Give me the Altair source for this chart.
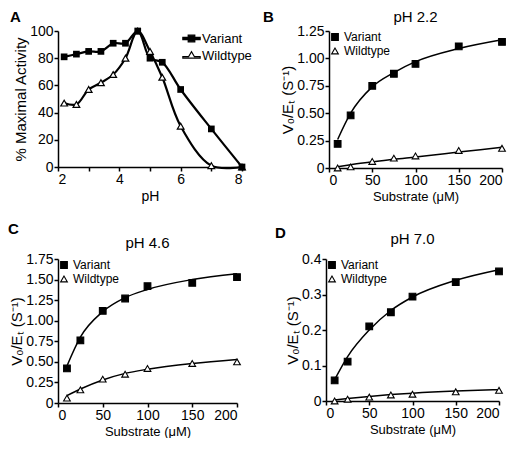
import altair as alt
import pandas as pd

NARROW = "Liberation Sans Narrow, Arial Narrow, Liberation Sans, Arial, sans-serif"
REG = "Liberation Sans, Arial, sans-serif"

series = ["Variant", "Wildtype"]

# Panel A: pH profile
ph = [2.2, 2.6, 3.0, 3.4, 3.8, 4.2, 4.6, 5.0, 5.4, 6.0, 7.0, 8.0]
activity_variant = [81, 83, 85, 85, 91, 91, 100, 80, 77, 57, 28, 0]
activity_wildtype = [47, 46, 57, 62, 68, 80, 100, 85, 66, 30, 1, 0]

# Kinetics panels
substrate = [10, 25, 50, 75, 100, 150, 200]

b_variant = [0.22, 0.48, 0.75, 0.86, 0.95, 1.11, 1.15]
b_wildtype = [0.00, 0.01, 0.06, 0.09, 0.11, 0.16, 0.18]
b_fit_variant = [0.26, 0.50, 0.74, 0.87, 0.97, 1.09, 1.17]
b_fit_wildtype = [0.012, 0.03, 0.055, 0.08, 0.10, 0.145, 0.19]

c_variant = [0.42, 0.76, 1.12, 1.27, 1.42, 1.46, 1.53]
c_wildtype = [0.06, 0.16, 0.29, 0.35, 0.42, 0.48, 0.50]
c_fit_variant = [0.45, 0.80, 1.11, 1.28, 1.38, 1.50, 1.57]
c_fit_wildtype = [0.09, 0.17, 0.28, 0.36, 0.41, 0.48, 0.53]

d_variant = [0.058, 0.111, 0.21, 0.25, 0.294, 0.335, 0.365]
d_wildtype = [0.0, 0.005, 0.011, 0.017, 0.019, 0.026, 0.030]
d_fit_variant = [0.06, 0.125, 0.20, 0.255, 0.293, 0.34, 0.37]
d_fit_wildtype = [0.003, 0.007, 0.013, 0.018, 0.022, 0.028, 0.032]


def long_df(xname, xs, variant, wildtype):
    rows = []
    for x, v in zip(xs, variant):
        rows.append({xname: x, "v": v, "series": "Variant"})
    for x, v in zip(xs, wildtype):
        rows.append({xname: x, "v": v, "series": "Wildtype"})
    return pd.DataFrame(rows)


def letter_layer(letter, lx, ly):
    return alt.Chart(pd.DataFrame({"t": [letter]})).mark_text(
        font=REG, fontWeight="bold", fontSize=15, align="left",
        baseline="alphabetic", color="black"
    ).encode(text="t:N", x=alt.value(lx), y=alt.value(ly))


def legend_channels(shapes, leg):
    return dict(
        shape=alt.Shape("series:N", scale=alt.Scale(domain=series, range=shapes), legend=leg),
        fill=alt.Fill("series:N", scale=alt.Scale(domain=series, range=["black", "white"]), legend=leg),
        stroke=alt.Stroke("series:N", scale=alt.Scale(domain=series, range=["black", "black"]), legend=leg),
    )


# ---------- Panel A ----------
dfa = long_df("ph", ph, activity_variant, activity_wildtype)
xa = alt.X("ph:Q", scale=alt.Scale(domain=[2, 8], nice=False, zero=False),
           axis=alt.Axis(title="pH", values=[2, 3, 4, 5, 6, 7, 8],
                         labelExpr="datum.value % 2 == 0 ? datum.label : ''"))
ya = alt.Y("v:Q", scale=alt.Scale(domain=[0, 100], nice=False),
           axis=alt.Axis(title="% Maximal Activity", values=[0, 20, 40, 60, 80, 100],
                         titleFontSize=15, titlePadding=1))

lines_a = alt.Chart(dfa).mark_line(interpolate="catmull-rom", color="black", strokeWidth=2.2).encode(
    x=xa, y=ya, detail="series:N")
pts_av = alt.Chart(dfa).transform_filter(alt.datum.series == "Variant").mark_point(
    shape="square", filled=True, color="black", size=45, opacity=1).encode(x=xa, y=ya)
pts_aw = alt.Chart(dfa).transform_filter(alt.datum.series == "Wildtype").mark_point(
    shape="triangle-up", filled=True, fill="white", stroke="black", strokeWidth=1.2, size=45, opacity=1).encode(x=xa, y=ya)

path_v = "M-1,-0.12H1V0.12H-1Z M-0.38,-0.38H0.38V0.38H-0.38Z"
path_w = "M-1,0.14L-0.34,0.14L0,-0.45L0.34,0.14L1,0.14L1,0.3L-1,0.3Z"
leg_a = alt.Legend(title=None, orient="none", legendX=124, legendY=-2, padding=0,
                   labelFont=NARROW, labelFontSize=13, labelColor="black",
                   symbolStrokeWidth=1.2, symbolOpacity=1,
                   symbolSize=300, rowPadding=-5, labelOffset=1, symbolOffset=0)
legend_a = alt.Chart(dfa).mark_point(filled=True, strokeWidth=1.2, opacity=0).encode(
    x=xa, y=ya, **legend_channels([path_v, path_w], leg_a))

panel_a = alt.layer(lines_a, pts_aw, pts_av, legend_a, letter_layer("A", -48, -9)).properties(
    width=184, height=136)


def kinetics(title, letter, variant, wildtype, fit_v, fit_w, ymax, ystep, fmt, w, h, lx, ly, toff):
    pts = long_df("s", substrate, variant, wildtype)
    fit = long_df("s", substrate, fit_v, fit_w)
    n = int(round(ymax / ystep))
    vals = [round(i * ystep, 3) for i in range(n + 1)]
    x = alt.X("s:Q", scale=alt.Scale(domain=[0, 200], nice=False),
              axis=alt.Axis(title="Substrate (μM)", values=[0, 50, 100, 150, 200], titleFontSize=13))
    y = alt.Y("v:Q", scale=alt.Scale(domain=[0, ymax], nice=False),
              axis=alt.Axis(title="V₀/Eₜ (S⁻¹)", values=vals, titleFontSize=15, titlePadding=1,
                            labelExpr="datum.value == 0 ? '0' : format(datum.value, '" + fmt + "')"))
    lines = alt.Chart(fit).mark_line(interpolate="monotone", color="black", strokeWidth=1.5).encode(
        x=x, y=y, detail="series:N")
    leg = alt.Legend(title=None, orient="top-left", offset=0, padding=0,
                     labelFont=NARROW, labelFontSize=12, labelColor="black",
                     symbolStrokeWidth=1.1, symbolOpacity=1,
                     symbolSize=45, rowPadding=2, labelOffset=3, symbolOffset=0)
    points = alt.Chart(pts).mark_point(filled=True, strokeWidth=1.1, size=45, opacity=1).encode(
        x=x, y=y, **legend_channels(["square", "triangle-up"], leg))
    return alt.layer(lines, points, letter_layer(letter, lx, ly)).properties(
        width=w, height=h,
        title=alt.TitleParams(title, font=REG, fontSize=15, fontWeight="normal", color="black", offset=toff))


panel_b = kinetics("pH 2.2", "B", b_variant, b_wildtype, b_fit_variant, b_fit_wildtype,
                   1.25, 0.25, ".2f", 173, 137, -66, -9, -15)
panel_c = kinetics("pH 4.6", "C", c_variant, c_wildtype, c_fit_variant, c_fit_wildtype,
                   1.75, 0.25, ".2f", 179, 144, -50, -25, -29)
panel_d = kinetics("pH 7.0", "D", d_variant, d_wildtype, d_fit_variant, d_fit_wildtype,
                   0.4, 0.1, ".1f", 173, 142, -51, -21, -21)

res = dict(shape="independent", fill="independent", stroke="independent")
top = alt.hconcat(panel_a, panel_b, spacing=11).resolve_scale(**res)
bottom = alt.hconcat(panel_c, panel_d, spacing=32).resolve_scale(**res)

chart = alt.vconcat(top, bottom, spacing=19).resolve_scale(**res).properties(
    padding={"left": 0, "top": 2, "right": 0, "bottom": 0}
).configure_axis(
    domainColor="black", domainWidth=1.5, tickColor="black", tickWidth=1.5, tickSize=4,
    labelFont=NARROW, labelFontSize=14, labelColor="black", labelPadding=1,
    titleFont=REG, titleFontSize=14, titleColor="black", titleFontWeight="normal",
    titlePadding=3, grid=False
).configure_view(stroke=None).configure_legend(labelLimit=200)

chart.save("out.html", embed_options={"renderer": "svg", "actions": False})
